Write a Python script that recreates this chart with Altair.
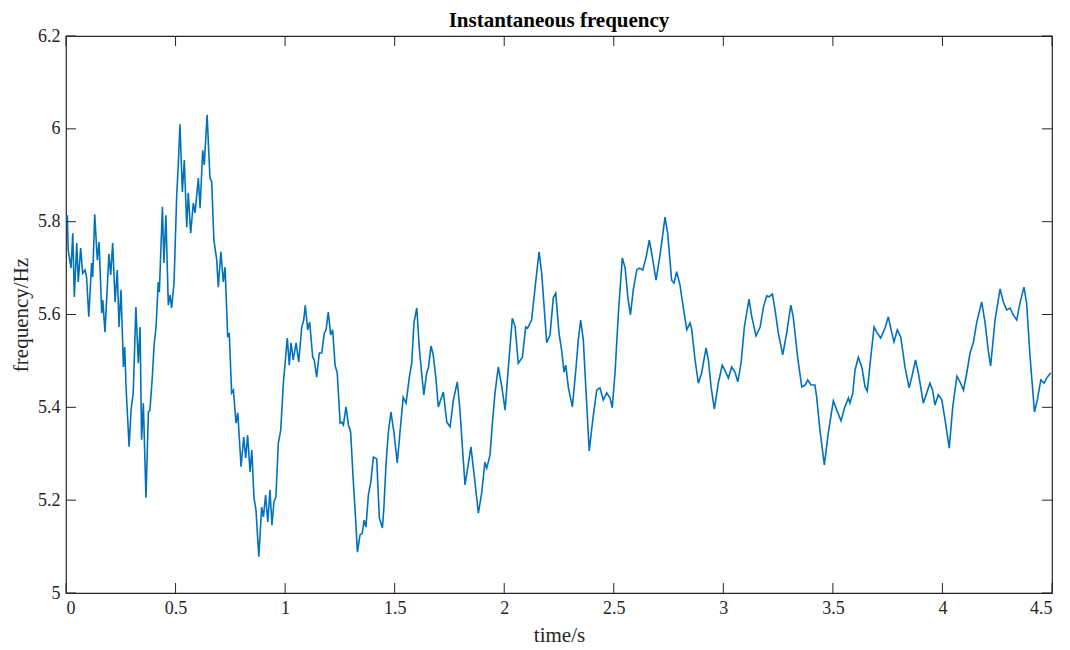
import altair as alt
import pandas as pd

# Instantaneous frequency trace (time in seconds, frequency in Hz)
time_s = [
    0.000, 0.006, 0.010, 0.023, 0.031, 0.038, 0.049, 0.056, 0.067, 0.076, 0.087, 0.094,
    0.104, 0.117, 0.122, 0.131, 0.143, 0.151, 0.163, 0.168, 0.178, 0.196, 0.204, 0.213,
    0.224, 0.234, 0.242, 0.251, 0.262, 0.268, 0.274, 0.288, 0.297, 0.307, 0.319, 0.330,
    0.338, 0.345, 0.353, 0.365, 0.376, 0.383, 0.394, 0.402, 0.411, 0.421, 0.426, 0.440,
    0.447, 0.456, 0.467, 0.475, 0.482, 0.493, 0.505, 0.513, 0.520, 0.531, 0.540, 0.551,
    0.558, 0.569, 0.581, 0.589, 0.604, 0.612, 0.624, 0.631, 0.644, 0.657, 0.665, 0.675,
    0.688, 0.695, 0.707, 0.718, 0.726, 0.738, 0.745, 0.756, 0.764, 0.776, 0.784, 0.799,
    0.811, 0.820, 0.829, 0.840, 0.848, 0.858, 0.867, 0.880, 0.893, 0.901, 0.911, 0.921,
    0.931, 0.940, 0.949, 0.958, 0.969, 0.980, 0.992, 1.000, 1.010, 1.019, 1.027, 1.037,
    1.050, 1.062, 1.076, 1.085, 1.092, 1.103, 1.112, 1.126, 1.133, 1.144, 1.156, 1.167,
    1.179, 1.187, 1.197, 1.208, 1.217, 1.228, 1.238, 1.251, 1.258, 1.266, 1.278, 1.289,
    1.299, 1.311, 1.322, 1.330, 1.342, 1.352, 1.361, 1.369, 1.380, 1.391, 1.403, 1.418,
    1.430, 1.444, 1.451, 1.461, 1.471, 1.483, 1.497, 1.512, 1.524, 1.539, 1.552, 1.567,
    1.578, 1.588, 1.601, 1.612, 1.623, 1.633, 1.646, 1.654, 1.666, 1.676, 1.689, 1.699,
    1.710, 1.722, 1.738, 1.753, 1.768, 1.786, 1.798, 1.809, 1.821, 1.832, 1.848, 1.867,
    1.882, 1.897, 1.912, 1.920, 1.935, 1.946, 1.958, 1.973, 1.989, 2.004, 2.019, 2.037,
    2.050, 2.064, 2.083, 2.098, 2.107, 2.125, 2.141, 2.159, 2.171, 2.194, 2.209, 2.224,
    2.235, 2.250, 2.262, 2.273, 2.281, 2.293, 2.311, 2.328, 2.338, 2.349, 2.361, 2.373,
    2.388, 2.404, 2.422, 2.437, 2.452, 2.468, 2.483, 2.493, 2.506, 2.521, 2.539, 2.552,
    2.564, 2.576, 2.589, 2.605, 2.617, 2.632, 2.647, 2.662, 2.673, 2.693, 2.711, 2.734,
    2.746, 2.764, 2.775, 2.787, 2.802, 2.817, 2.833, 2.848, 2.856, 2.871, 2.886, 2.901,
    2.921, 2.932, 2.944, 2.959, 2.977, 2.995, 3.011, 3.023, 3.038, 3.053, 3.066, 3.081,
    3.096, 3.117, 3.130, 3.149, 3.168, 3.183, 3.198, 3.209, 3.224, 3.236, 3.251, 3.271,
    3.289, 3.308, 3.319, 3.339, 3.358, 3.373, 3.385, 3.400, 3.418, 3.426, 3.441, 3.461,
    3.479, 3.502, 3.518, 3.537, 3.555, 3.571, 3.578, 3.591, 3.601, 3.616, 3.632, 3.647,
    3.657, 3.673, 3.688, 3.700, 3.718, 3.738, 3.753, 3.768, 3.779, 3.794, 3.810, 3.829,
    3.848, 3.860, 3.877, 3.890, 3.913, 3.928, 3.943, 3.955, 3.966, 3.981, 3.997, 4.012,
    4.031, 4.047, 4.066, 4.080, 4.096, 4.111, 4.126, 4.141, 4.156, 4.179, 4.194, 4.209,
    4.220, 4.240, 4.263, 4.278, 4.293, 4.309, 4.323, 4.339, 4.354, 4.372, 4.384, 4.400,
    4.420, 4.433, 4.449, 4.464, 4.475, 4.494,
]
freq_hz = [
    5.800, 5.814, 5.739, 5.700, 5.775, 5.638, 5.754, 5.670, 5.743, 5.689, 5.696, 5.680,
    5.595, 5.711, 5.681, 5.816, 5.717, 5.756, 5.603, 5.631, 5.562, 5.730, 5.685, 5.754,
    5.627, 5.696, 5.573, 5.653, 5.487, 5.530, 5.444, 5.315, 5.394, 5.433, 5.616, 5.495,
    5.573, 5.330, 5.409, 5.205, 5.390, 5.394, 5.465, 5.534, 5.573, 5.670, 5.648, 5.832,
    5.711, 5.814, 5.620, 5.642, 5.614, 5.668, 5.853, 5.928, 6.010, 5.864, 5.933, 5.788,
    5.862, 5.775, 5.840, 5.819, 5.894, 5.829, 5.954, 5.922, 6.030, 5.894, 5.886, 5.760,
    5.717, 5.659, 5.735, 5.670, 5.702, 5.551, 5.560, 5.431, 5.437, 5.366, 5.388, 5.272,
    5.336, 5.291, 5.340, 5.261, 5.308, 5.205, 5.179, 5.078, 5.185, 5.164, 5.211, 5.153,
    5.222, 5.146, 5.196, 5.207, 5.323, 5.351, 5.452, 5.495, 5.549, 5.491, 5.539, 5.502,
    5.539, 5.498, 5.573, 5.588, 5.620, 5.567, 5.584, 5.508, 5.502, 5.465, 5.517, 5.517,
    5.560, 5.567, 5.605, 5.556, 5.567, 5.491, 5.474, 5.366, 5.368, 5.362, 5.401, 5.362,
    5.347, 5.243, 5.157, 5.088, 5.125, 5.129, 5.157, 5.142, 5.211, 5.239, 5.293, 5.289,
    5.162, 5.140, 5.185, 5.282, 5.345, 5.390, 5.345, 5.280, 5.345, 5.422, 5.409, 5.465,
    5.495, 5.582, 5.614, 5.530, 5.474, 5.427, 5.474, 5.485, 5.532, 5.513, 5.459, 5.401,
    5.416, 5.433, 5.368, 5.358, 5.416, 5.455, 5.394, 5.315, 5.233, 5.265, 5.315, 5.237,
    5.172, 5.215, 5.282, 5.269, 5.297, 5.366, 5.431, 5.487, 5.444, 5.394, 5.487, 5.592,
    5.573, 5.495, 5.508, 5.573, 5.571, 5.588, 5.659, 5.735, 5.689, 5.539, 5.556, 5.636,
    5.646, 5.560, 5.523, 5.476, 5.491, 5.442, 5.401, 5.487, 5.545, 5.588, 5.545, 5.437,
    5.306, 5.373, 5.437, 5.442, 5.416, 5.431, 5.420, 5.399, 5.476, 5.603, 5.722, 5.700,
    5.638, 5.599, 5.653, 5.696, 5.700, 5.696, 5.722, 5.760, 5.732, 5.674, 5.728, 5.810,
    5.775, 5.674, 5.668, 5.692, 5.664, 5.616, 5.567, 5.582, 5.567, 5.502, 5.452, 5.474,
    5.528, 5.502, 5.444, 5.396, 5.452, 5.491, 5.476, 5.463, 5.487, 5.476, 5.455, 5.495,
    5.573, 5.633, 5.595, 5.554, 5.573, 5.616, 5.640, 5.638, 5.644, 5.610, 5.560, 5.513,
    5.560, 5.620, 5.595, 5.508, 5.444, 5.448, 5.459, 5.448, 5.448, 5.422, 5.351, 5.276,
    5.345, 5.414, 5.394, 5.371, 5.401, 5.420, 5.409, 5.431, 5.480, 5.508, 5.487, 5.444,
    5.435, 5.508, 5.573, 5.562, 5.549, 5.571, 5.595, 5.562, 5.541, 5.567, 5.551, 5.487,
    5.442, 5.465, 5.502, 5.474, 5.409, 5.431, 5.452, 5.437, 5.405, 5.427, 5.416, 5.373,
    5.312, 5.401, 5.467, 5.455, 5.437, 5.474, 5.517, 5.539, 5.582, 5.627, 5.584, 5.523,
    5.489, 5.588, 5.655, 5.627, 5.610, 5.614, 5.599, 5.588, 5.625, 5.659, 5.625, 5.508,
    5.390, 5.416, 5.459, 5.452, 5.463, 5.474,
]

x_ticks = [0, 0.5, 1, 1.5, 2, 2.5, 3, 3.5, 4, 4.5]
y_ticks = [5, 5.2, 5.4, 5.6, 5.8, 6, 6.2]

W, H = 986, 557
FONT = "Liberation Serif"
INK = "#262626"
LINE = "#0072BD"

trace = pd.DataFrame({"t": time_s, "f": freq_hz})
xt = pd.DataFrame({"t": x_ticks})
yt = pd.DataFrame({"f": y_ticks})

x_scale = alt.Scale(domain=[0, 4.5], nice=False, zero=False)
y_scale = alt.Scale(domain=[5, 6.2], nice=False, zero=False)

line = alt.Chart(trace).mark_line(color=LINE, strokeWidth=1.6, clip=True).encode(
    x=alt.X(
        "t:Q", scale=x_scale, title="time/s",
        axis=alt.Axis(values=x_ticks, format="~g", grid=False, domain=False, ticks=False,
                      labelPadding=6, titlePadding=7),
    ),
    y=alt.Y(
        "f:Q", scale=y_scale, title="frequency/Hz",
        axis=alt.Axis(values=y_ticks, format="~g", grid=False, domain=False, ticks=False,
                      labelPadding=6, titlePadding=6),
    ),
)

# inward tick marks on all four sides of the box
tick_style = dict(color=INK, strokeWidth=1)
bottom = alt.Chart(xt).mark_rule(**tick_style).encode(
    x=alt.X("t:Q", scale=x_scale), y=alt.value(H), y2=alt.value(H - 10))
top = alt.Chart(xt).mark_rule(**tick_style).encode(
    x=alt.X("t:Q", scale=x_scale), y=alt.value(0), y2=alt.value(10))
left = alt.Chart(yt).mark_rule(**tick_style).encode(
    y=alt.Y("f:Q", scale=y_scale), x=alt.value(0), x2=alt.value(10))
right = alt.Chart(yt).mark_rule(**tick_style).encode(
    y=alt.Y("f:Q", scale=y_scale), x=alt.value(W), x2=alt.value(W - 10))

chart = (
    alt.layer(line, bottom, top, left, right)
    .properties(
        width=W, height=H,
        title=alt.TitleParams("Instantaneous frequency", font=FONT, fontSize=21,
                              fontWeight="bold", color="black", offset=-4, anchor="middle"),
        autosize=alt.AutoSizeParams(type="none"),
        padding={"left": 66, "top": 36, "right": 18, "bottom": 57},
    )
    .configure_view(stroke=INK, strokeWidth=1.2)
    .configure_axis(
        labelFont=FONT, labelFontSize=18, labelColor=INK,
        titleFont=FONT, titleFontSize=21, titleFontWeight="normal", titleColor=INK,
    )
)

chart.save("out.html", embed_options={"renderer": "svg", "actions": False})
